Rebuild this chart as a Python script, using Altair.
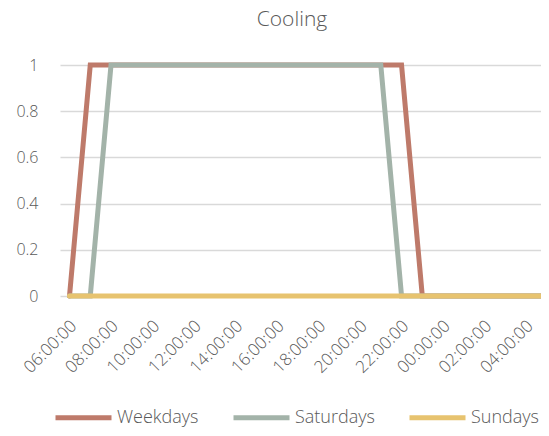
import altair as alt
import pandas as pd

times = ["06:00:00", "07:00:00", "08:00:00", "09:00:00", "10:00:00", "11:00:00",
         "12:00:00", "13:00:00", "14:00:00", "15:00:00", "16:00:00", "17:00:00",
         "18:00:00", "19:00:00", "20:00:00", "21:00:00", "22:00:00", "23:00:00",
         "00:00:00", "01:00:00", "02:00:00", "03:00:00", "04:00:00", "05:00:00"]
weekdays = [0, 1, 1, 1, 1, 1, 1, 1, 1, 1, 1, 1, 1, 1, 1, 1, 1, 0, 0, 0, 0, 0, 0, 0]
saturdays = [0, 0, 1, 1, 1, 1, 1, 1, 1, 1, 1, 1, 1, 1, 1, 1, 0, 0, 0, 0, 0, 0, 0, 0]
sundays = [0, 0, 0, 0, 0, 0, 0, 0, 0, 0, 0, 0, 0, 0, 0, 0, 0, 0, 0, 0, 0, 0, 0, 0]
series_names = ["Weekdays", "Saturdays", "Sundays"]
series_colors = ["#BE7A6A", "#A3B3A9", "#E7C36F"]
y_ticks = [0, 0.2, 0.4, 0.6, 0.8, 1]
x_label_idx = list(range(0, 24, 2))
title_text = ["Cooling"]

rows = []
for name, vals in zip(series_names, [weekdays, saturdays, sundays]):
    for i, (t, v) in enumerate(zip(times, vals)):
        rows.append({"idx": i, "time": t, "value": v, "series": name})
df = pd.DataFrame(rows)

label_arr = "[" + ",".join("'" + t + "'" for t in times) + "]"
FONT = "Open Sans"
TXT = "#595959"
FW = 300

color = alt.Color(
    "series:N",
    scale=alt.Scale(domain=series_names, range=series_colors),
    legend=alt.Legend(
        title=None, orient="none", direction="horizontal",
        legendX=-7, legendY=322,
        symbolType="stroke", symbolSize=3136, symbolStrokeWidth=5,
        labelFontSize=18, labelFont=FONT, labelColor=TXT, labelFontWeight=FW,
        labelOffset=3, columnPadding=24, symbolOffset=0,
    ),
)

x = alt.X(
    "idx:Q",
    scale=alt.Scale(domain=[-0.458, 22.72], nice=False, zero=False),
    axis=alt.Axis(
        title=None, values=x_label_idx, labelExpr=label_arr + "[datum.value]",
        labelAngle=-45, labelAlign="right", labelBaseline="middle",
        labelPadding=27, labelOffset=4, ticks=False, domain=False, grid=False,
        labelFontSize=17, labelFont=FONT, labelColor=TXT, labelFontWeight=FW,
        labelOverlap=False,
    ),
)
y = alt.Y(
    "value:Q",
    scale=alt.Scale(domain=[0, 1], nice=False),
    axis=alt.Axis(
        title=None, values=y_ticks, format="~g", ticks=False, domain=False,
        gridColor="#D9D9D9", gridWidth=1.5, labelPadding=22,
        labelFontSize=16, labelFont=FONT, labelColor=TXT, labelFontWeight=FW,
    ),
)

layers = []
for name in series_names:
    layers.append(
        alt.Chart(df)
        .transform_filter(alt.datum.series == name)
        .mark_line(strokeWidth=5, strokeCap="round", strokeJoin="miter")
        .encode(x=x, y=y, color=color)
    )

title_layer = (
    alt.Chart(pd.DataFrame({"t": title_text}))
    .mark_text(font=FONT, fontSize=21, fontWeight=FW, color=TXT, align="center",
               baseline="middle")
    .encode(text="t:N", x=alt.value(232), y=alt.value(-45))
)

chart = alt.layer(*layers, title_layer).properties(
    width=481, height=231,
    autosize=alt.AutoSizeParams(type="none"),
    padding={"left": 52, "top": 57, "right": 0, "bottom": 132},
).configure_view(stroke=None)

chart.save("out.html", embed_options={"renderer": "svg", "actions": False})
